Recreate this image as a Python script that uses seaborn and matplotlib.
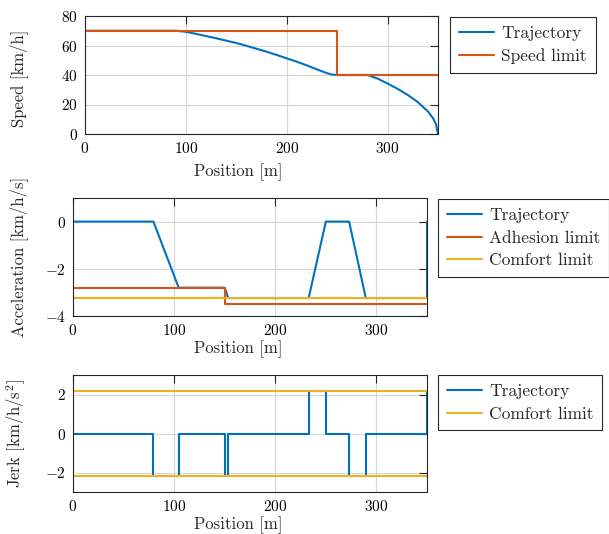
import matplotlib
matplotlib.use("Agg")
import matplotlib.pyplot as plt
from matplotlib.lines import Line2D
import numpy as np
import pandas as pd
import seaborn as sns

# ---------------- data ----------------
speed_pos = [0, 90, 100, 110, 120, 130, 140, 150, 160, 170, 180, 190, 200, 210,
             220, 230, 240, 245, 250, 280, 290, 300, 310, 320, 330, 340, 345, 348, 350]
speed_traj = [70, 70, 69.3, 67.9, 66.4, 64.9, 63.3, 61.7, 59.8, 57.8, 55.8, 53.6, 51.3, 49.0,
              46.5, 43.8, 41.2, 40.3, 40, 40, 37.6, 34.2, 30.6, 26.5, 21.6, 15.3, 10.8, 6.8, 0]
speed_limit_pos = [0, 250, 250, 350]
speed_limit = [70, 70, 40, 40]

acc_pos = [0, 79.5, 104.5, 150, 153.5, 233, 250, 273, 289.5, 350, 350]
acc_traj = [0, 0, -2.8, -2.8, -3.24, -3.24, 0, 0, -3.24, -3.24, 0]
adh_pos = [0, 150, 150, 350]
adh_limit = [-2.8, -2.8, -3.5, -3.5]
comfort_acc_pos = [0, 350]
comfort_acc = [-3.24, -3.24]

jerk_pos = [0, 79.5, 79.5, 104.5, 104.5, 150, 150, 153.5, 153.5, 233, 233, 250, 250,
            273, 273, 289.5, 289.5, 350, 350]
jerk_traj = [0, 0, -2.16, -2.16, 0, 0, -2.16, -2.16, 0, 0, 2.16, 2.16, 0,
             0, -2.16, -2.16, 0, 0, 2.16]
comfort_jerk_pos = [0, 350]
comfort_jerk_hi = [2.16, 2.16]
comfort_jerk_lo = [-2.16, -2.16]

BLUE = "#0072BD"
ORANGE = "#D95319"
YELLOW = "#EDB120"

# ---------------- style ----------------
sns.set_theme(style="white")
plt.rcParams.update({
    "font.family": ["cmr10", "DejaVu Serif"],
    "mathtext.fontset": "cm",
    "axes.formatter.use_mathtext": True,
    "font.size": 12.5,
    "axes.edgecolor": "#262626",
    "axes.linewidth": 0.8,
    "xtick.direction": "in",
    "ytick.direction": "in",
    "xtick.major.size": 6,
    "ytick.major.size": 6,
    "xtick.major.width": 0.8,
    "ytick.major.width": 0.8,
    "xtick.color": "#262626",
    "ytick.color": "#262626",
    "xtick.labelcolor": "black",
    "ytick.labelcolor": "black",
    "xtick.top": True,
    "ytick.right": True,
    "xtick.major.pad": 5,
    "ytick.major.pad": 5,
})

W, H = 609, 534
fig = plt.figure(figsize=(W / 100, H / 100), dpi=100)

def axbox(l, t, r, b):
    return [l / W, 1 - b / H, (r - l) / W, (b - t) / H]

ax1 = fig.add_axes(axbox(85, 16, 438, 134))
ax2 = fig.add_axes(axbox(73, 198, 427, 316))
ax3 = fig.add_axes(axbox(73, 375, 427, 492))

LW = 1.5
kw = dict(estimator=None, sort=False, linewidth=LW, legend=False)

def draw(ax, x, y, color):
    df = pd.DataFrame({"x": x, "y": y})
    sns.lineplot(data=df, x="x", y="y", color=color, ax=ax, **kw)

draw(ax1, speed_pos, speed_traj, BLUE)
draw(ax1, speed_limit_pos, speed_limit, ORANGE)

draw(ax2, acc_pos, acc_traj, BLUE)
draw(ax2, adh_pos, adh_limit, ORANGE)
draw(ax2, comfort_acc_pos, comfort_acc, YELLOW)

draw(ax3, jerk_pos, jerk_traj, BLUE)
draw(ax3, comfort_jerk_pos, comfort_jerk_hi, YELLOW)
draw(ax3, comfort_jerk_pos, comfort_jerk_lo, YELLOW)

ax1.set_ylim(0, 80)
ax1.set_yticks([0, 20, 40, 60, 80])
ax2.set_ylim(-4, 1)
ax2.set_yticks([-4, -2, 0])
ax3.set_ylim(-3, 3)
ax3.set_yticks([-2, 0, 2])

for ax in (ax1, ax2, ax3):
    ax.set_xlim(0, 350)
    ax.set_xticks([0, 100, 200, 300])
    ax.grid(True, color="#d6d6d6", linewidth=0.8)
    ax.set_axisbelow(True)
    ax.set_xlabel("Position [m]")
    for s in ax.spines.values():
        s.set_visible(True)

ax1.set_ylabel("Speed [km/h]")
ax2.set_ylabel("Acceleration [km/h/s]")
ax3.set_ylabel("Jerk [km/h/s$^2$]")

# label positions (axes fractions)
ax1.yaxis.set_label_coords((28 - 85) / 353, 0.47)
ax2.yaxis.set_label_coords((28 - 73) / 354, 0.5)
ax3.yaxis.set_label_coords((28 - 73) / 354, 0.5)
ax1.xaxis.set_label_coords((238 - 85) / 353, -(163 - 134) / 118)
ax2.xaxis.set_label_coords((238 - 73) / 354, -(340 - 316) / 118)
ax3.xaxis.set_label_coords((238 - 73) / 354, -(516 - 492) / 117)

def legend(ax, labels, colors, x, y):
    handles = [Line2D([], [], color=c, linewidth=LW) for c in colors]
    lg = ax.legend(handles, labels, loc="upper left",
                   bbox_to_anchor=(x / W, 1 - y / H), bbox_transform=fig.transFigure,
                   borderaxespad=0, frameon=True, fancybox=False, framealpha=1,
                   edgecolor="#262626", handlelength=2.05, handletextpad=0.4,
                   borderpad=0.5, labelspacing=0.42, fontsize=12.5)
    lg.get_frame().set_linewidth(0.8)

legend(ax1, ["Trajectory", "Speed limit"], [BLUE, ORANGE], 450, 17)
legend(ax2, ["Trajectory", "Adhesion limit", "Comfort limit"], [BLUE, ORANGE, YELLOW], 438, 199)
legend(ax3, ["Trajectory", "Comfort limit"], [BLUE, YELLOW], 438, 375)

fig.savefig("out.png", dpi=100)
